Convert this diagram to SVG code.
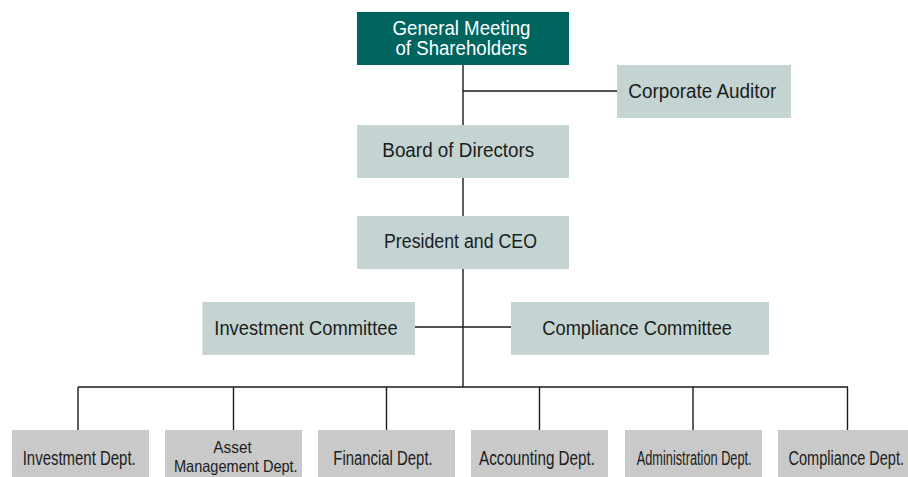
<svg xmlns="http://www.w3.org/2000/svg" width="908" height="477" viewBox="0 0 908 477">
<style>
text{font-family:"Liberation Sans Narrow","Liberation Sans",Arial,sans-serif;font-size:19.5px;fill:#1c1c1c}
.top{fill:#00655f}
.top-t{fill:#ffffff}
.mid{fill:#c3d4d3}
.dept{fill:#c9c9c9}
.small{font-size:16.5px}
.conn{stroke:#1a1a1a;stroke-width:1.4;fill:none}
</style>
<rect width="908" height="477" fill="#ffffff"/>
<g id="connectors">
<path class="conn" d="M463 65V387M463 91H617M415 327H511M78 387H848M78 387V430M233.5 387V430M386.5 387V430M539.5 387V430M693 387V430M847.5 387V430"/>
</g>
<g id="general-meeting">
<rect class="top" x="357" y="12" width="212" height="53"/>
<text class="top-t" x="392.5" y="34.5" textLength="138" lengthAdjust="spacingAndGlyphs">General Meeting</text>
<text class="top-t" x="395.5" y="54.5" textLength="131.5" lengthAdjust="spacingAndGlyphs">of Shareholders</text>
</g>
<g id="corporate-auditor">
<rect class="mid" x="617" y="65" width="174" height="53"/>
<text x="628.3" y="98" textLength="148" lengthAdjust="spacingAndGlyphs">Corporate Auditor</text>
</g>
<g id="board">
<rect class="mid" x="357" y="125" width="212" height="53"/>
<text x="382.3" y="157" textLength="152" lengthAdjust="spacingAndGlyphs">Board of Directors</text>
</g>
<g id="president">
<rect class="mid" x="357" y="216" width="212" height="53"/>
<text x="384" y="248" textLength="153" lengthAdjust="spacingAndGlyphs">President and CEO</text>
</g>
<g id="investment-committee">
<rect class="mid" x="202.5" y="302" width="212.5" height="53"/>
<text x="214.3" y="335" textLength="183.4" lengthAdjust="spacingAndGlyphs">Investment Committee</text>
</g>
<g id="compliance-committee">
<rect class="mid" x="511" y="302" width="258" height="53"/>
<text x="542.3" y="335" textLength="189.7" lengthAdjust="spacingAndGlyphs">Compliance Committee</text>
</g>
<g id="investment-dept">
<rect class="dept" x="12" y="430" width="137" height="47"/>
<text transform="translate(22.7 465) scale(0.75 1)" textLength="150.7" lengthAdjust="spacingAndGlyphs">Investment Dept.</text>
</g>
<g id="asset-management-dept">
<rect class="dept" x="165" y="430" width="137" height="47"/>
<text class="small" transform="translate(213.3 453.3) scale(0.75 1)" textLength="51.2" lengthAdjust="spacingAndGlyphs">Asset</text>
<text class="small" transform="translate(174 472.3) scale(0.75 1)" textLength="164.9" lengthAdjust="spacingAndGlyphs">Management Dept.</text>
</g>
<g id="financial-dept">
<rect class="dept" x="318" y="430" width="137" height="47"/>
<text transform="translate(333.3 465) scale(0.75 1)" textLength="132.5" lengthAdjust="spacingAndGlyphs">Financial Dept.</text>
</g>
<g id="accounting-dept">
<rect class="dept" x="471" y="430" width="137" height="47"/>
<text transform="translate(479 465) scale(0.75 1)" textLength="154.7" lengthAdjust="spacingAndGlyphs">Accounting Dept.</text>
</g>
<g id="administration-dept">
<rect class="dept" x="625" y="430" width="137" height="47"/>
<text transform="translate(636.7 465) scale(0.75 1)" textLength="153.3" lengthAdjust="spacingAndGlyphs">Administration Dept.</text>
</g>
<g id="compliance-dept">
<rect class="dept" x="778" y="430" width="130" height="47"/>
<text transform="translate(788.5 465) scale(0.75 1)" textLength="154" lengthAdjust="spacingAndGlyphs">Compliance Dept.</text>
</g>
</svg>
